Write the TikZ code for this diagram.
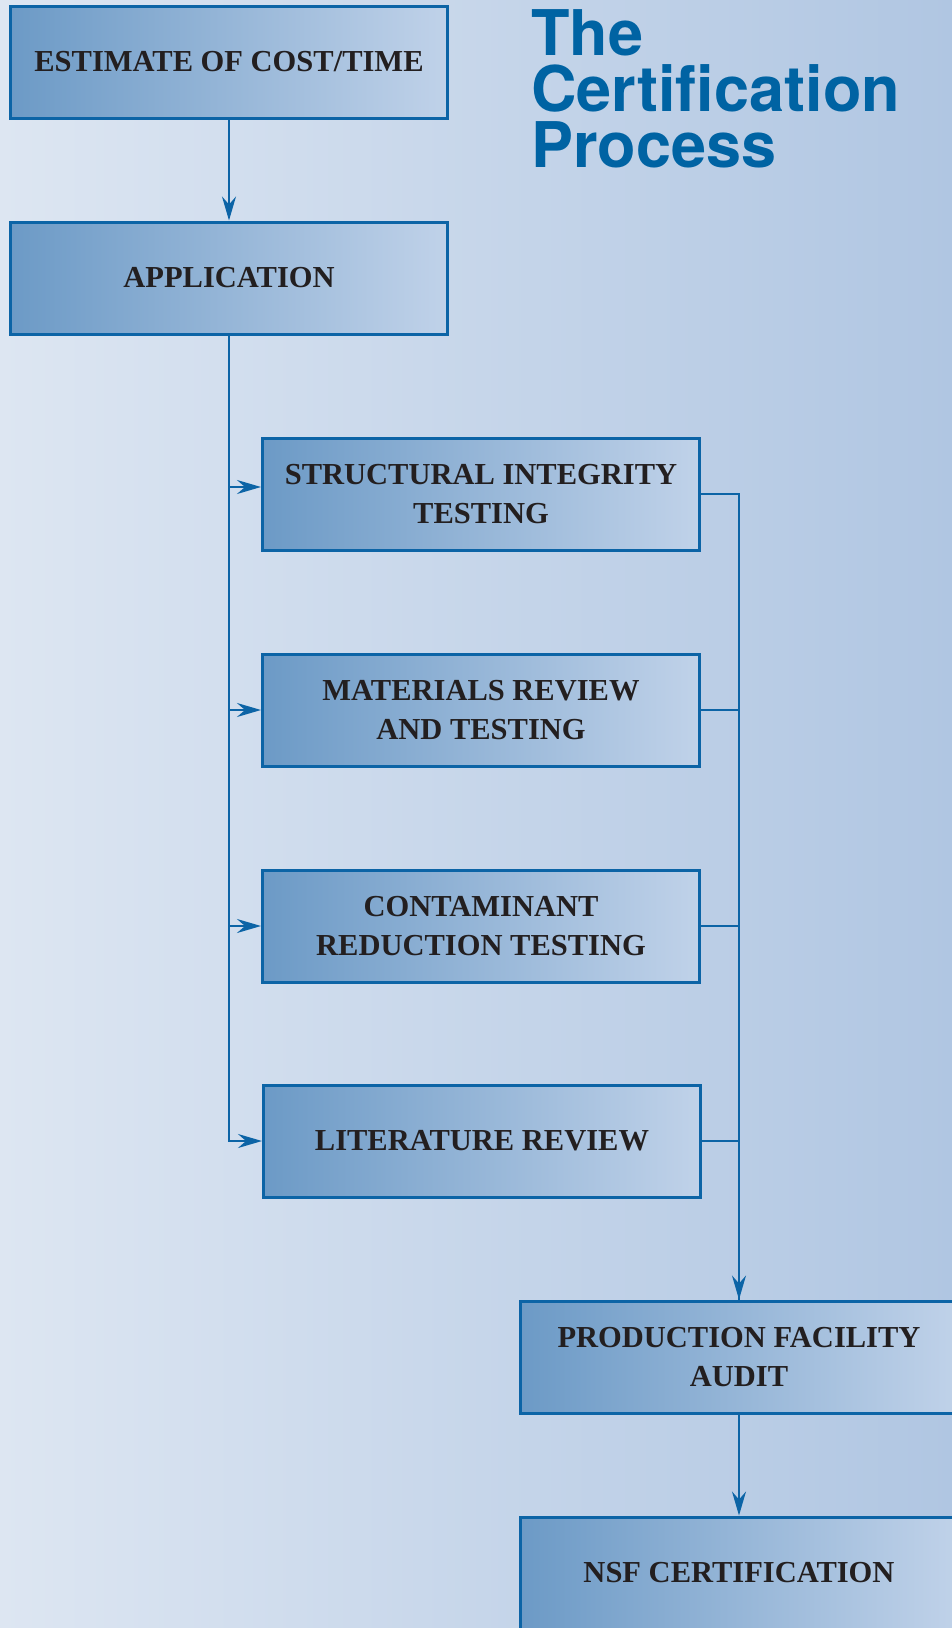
\documentclass[tikz,border=0pt]{standalone}
\usepackage{fontspec}
\setmainfont{Liberation Serif}
\newfontfamily\headfont[Ligatures=CommonOff]{TeX Gyre Heros}
\usetikzlibrary{arrows.meta}

\definecolor{nsfblue}{RGB}{0,99,163}
\definecolor{edgeblue}{RGB}{12,100,166}
\definecolor{boxleft}{RGB}{108,154,198}
\definecolor{boxright}{RGB}{192,210,233}
\definecolor{bgleft}{RGB}{221,230,242}
\definecolor{bgright}{RGB}{176,198,226}
\definecolor{ink}{RGB}{35,31,32}

\begin{document}
\begin{tikzpicture}[x=1pt, y=-1pt,
  stage/.style={draw=edgeblue, line width=3pt, left color=boxleft, right color=boxright,
    minimum width=437pt, minimum height=112pt, align=center, text=ink,
    font=\fontsize{30.5}{39}\selectfont\bfseries},
  link/.style={edgeblue, line width=2pt},
  flow/.style={link, -{Stealth[length=24pt, width=14pt, inset=8pt]}}]
  \useasboundingbox (0,0) rectangle (952,1628);
  \clip (0,0) rectangle (952,1628);
  \shade[left color=bgleft, right color=bgright] (0,0) rectangle (952,1628);

  \node[anchor=north west, inner sep=0pt, align=left, text=nsfblue,
        font=\headfont\bfseries\fontsize{63}{56}\selectfont] (title) at (531,9)
        {The\\Certification\\Process};

  \node[stage] (est) at (229,62)   {ESTIMATE OF COST/TIME};
  \node[stage] (app) at (229,278)  {APPLICATION};
  \node[stage] (sit) at (481,494)  {STRUCTURAL INTEGRITY\\TESTING};
  \node[stage] (mat) at (481,710)  {MATERIALS REVIEW\\AND TESTING};
  \node[stage] (con) at (481,926)  {CONTAMINANT\\REDUCTION TESTING};
  \node[stage] (lit) at (482,1141) {LITERATURE REVIEW};
  \node[stage] (pfa) at (739,1357) {PRODUCTION FACILITY\\AUDIT};
  \node[stage] (nsf) at (739,1573) {NSF CERTIFICATION};

  \draw[flow] (est) -- (app);
  \draw[flow] (app.south) |- ([yshift=7pt]sit.west);
  \foreach \n in {mat,con,lit}
    \draw[flow] (app.south) |- (\n.west);
  \foreach \n in {mat,con,lit}
    \draw[link] (\n.east) -| (pfa.north);
  \draw[flow] (sit.east) -| (pfa.north);
  \draw[flow] (pfa) -- (nsf);
\end{tikzpicture}
\end{document}
